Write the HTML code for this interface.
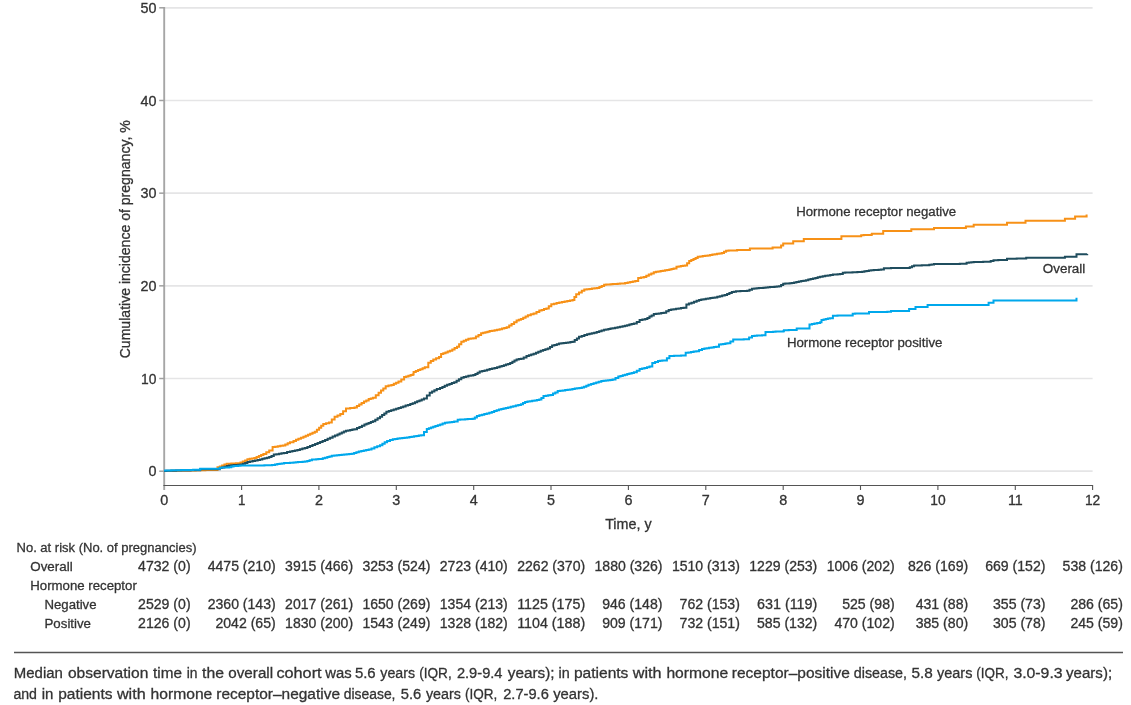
<!DOCTYPE html>
<html lang="en"><head><meta charset="utf-8"><title>Cumulative incidence of pregnancy</title>
<style>
html,body{margin:0;padding:0;background:#fff;}
body{width:1131px;height:705px;overflow:hidden;}
svg{display:block;font-family:"Liberation Sans",sans-serif;}
text{fill:#333;}
text{stroke:#333;stroke-width:0.3px;}
.ax{font-size:14.1px;}
.at{font-size:15.2px;}
.tb{font-size:13.7px;}
.nm{font-size:14.1px;}
.cp{font-size:15.3px;}
</style></head><body>
<svg width="1131" height="705" viewBox="0 0 1131 705">
<rect width="1131" height="705" fill="#fff"/>

<line x1="164.2" y1="471.20" x2="1092.6" y2="471.20" stroke="#e5e5e6" stroke-width="1.7"/>
<line x1="164.2" y1="378.52" x2="1092.6" y2="378.52" stroke="#e5e5e6" stroke-width="1.7"/>
<line x1="164.2" y1="285.84" x2="1092.6" y2="285.84" stroke="#e5e5e6" stroke-width="1.7"/>
<line x1="164.2" y1="193.16" x2="1092.6" y2="193.16" stroke="#e5e5e6" stroke-width="1.7"/>
<line x1="164.2" y1="100.48" x2="1092.6" y2="100.48" stroke="#e5e5e6" stroke-width="1.7"/>
<line x1="164.2" y1="7.80" x2="1092.6" y2="7.80" stroke="#e5e5e6" stroke-width="1.7"/>
<line x1="164.2" y1="7" x2="164.2" y2="490" stroke="#a6a6a6" stroke-width="1.9"/>
<line x1="159.2" y1="471.20" x2="164.2" y2="471.20" stroke="#a0a0a0" stroke-width="1.5"/>
<text class="ax" x="156.4" y="476.2" text-anchor="end" textLength="8.0" lengthAdjust="spacingAndGlyphs">0</text>
<line x1="159.2" y1="378.52" x2="164.2" y2="378.52" stroke="#a0a0a0" stroke-width="1.5"/>
<text class="ax" x="156.4" y="383.5" text-anchor="end" textLength="15.4" lengthAdjust="spacingAndGlyphs">10</text>
<line x1="159.2" y1="285.84" x2="164.2" y2="285.84" stroke="#a0a0a0" stroke-width="1.5"/>
<text class="ax" x="156.4" y="290.8" text-anchor="end" textLength="16.0" lengthAdjust="spacingAndGlyphs">20</text>
<line x1="159.2" y1="193.16" x2="164.2" y2="193.16" stroke="#a0a0a0" stroke-width="1.5"/>
<text class="ax" x="156.4" y="198.2" text-anchor="end" textLength="16.0" lengthAdjust="spacingAndGlyphs">30</text>
<line x1="159.2" y1="100.48" x2="164.2" y2="100.48" stroke="#a0a0a0" stroke-width="1.5"/>
<text class="ax" x="156.4" y="105.5" text-anchor="end" textLength="16.0" lengthAdjust="spacingAndGlyphs">40</text>
<line x1="159.2" y1="7.80" x2="164.2" y2="7.80" stroke="#a0a0a0" stroke-width="1.5"/>
<text class="ax" x="156.4" y="12.8" text-anchor="end" textLength="16.0" lengthAdjust="spacingAndGlyphs">50</text>
<line x1="163.4" y1="485.5" x2="1093.1" y2="485.5" stroke="#555" stroke-width="1.2"/>
<text class="ax" x="164.2" y="504.8" text-anchor="middle" textLength="8.0" lengthAdjust="spacingAndGlyphs">0</text>
<line x1="241.6" y1="485.5" x2="241.6" y2="490" stroke="#555" stroke-width="1.1"/>
<text class="ax" x="241.6" y="504.8" text-anchor="middle" textLength="7.4" lengthAdjust="spacingAndGlyphs">1</text>
<line x1="318.9" y1="485.5" x2="318.9" y2="490" stroke="#555" stroke-width="1.1"/>
<text class="ax" x="318.9" y="504.8" text-anchor="middle" textLength="8.0" lengthAdjust="spacingAndGlyphs">2</text>
<line x1="396.3" y1="485.5" x2="396.3" y2="490" stroke="#555" stroke-width="1.1"/>
<text class="ax" x="396.3" y="504.8" text-anchor="middle" textLength="8.0" lengthAdjust="spacingAndGlyphs">3</text>
<line x1="473.7" y1="485.5" x2="473.7" y2="490" stroke="#555" stroke-width="1.1"/>
<text class="ax" x="473.7" y="504.8" text-anchor="middle" textLength="8.0" lengthAdjust="spacingAndGlyphs">4</text>
<line x1="551.0" y1="485.5" x2="551.0" y2="490" stroke="#555" stroke-width="1.1"/>
<text class="ax" x="551.0" y="504.8" text-anchor="middle" textLength="8.0" lengthAdjust="spacingAndGlyphs">5</text>
<line x1="628.4" y1="485.5" x2="628.4" y2="490" stroke="#555" stroke-width="1.1"/>
<text class="ax" x="628.4" y="504.8" text-anchor="middle" textLength="8.0" lengthAdjust="spacingAndGlyphs">6</text>
<line x1="705.8" y1="485.5" x2="705.8" y2="490" stroke="#555" stroke-width="1.1"/>
<text class="ax" x="705.8" y="504.8" text-anchor="middle" textLength="8.0" lengthAdjust="spacingAndGlyphs">7</text>
<line x1="783.2" y1="485.5" x2="783.2" y2="490" stroke="#555" stroke-width="1.1"/>
<text class="ax" x="783.2" y="504.8" text-anchor="middle" textLength="8.0" lengthAdjust="spacingAndGlyphs">8</text>
<line x1="860.5" y1="485.5" x2="860.5" y2="490" stroke="#555" stroke-width="1.1"/>
<text class="ax" x="860.5" y="504.8" text-anchor="middle" textLength="8.0" lengthAdjust="spacingAndGlyphs">9</text>
<line x1="937.9" y1="485.5" x2="937.9" y2="490" stroke="#555" stroke-width="1.1"/>
<text class="ax" x="937.9" y="504.8" text-anchor="middle" textLength="15.4" lengthAdjust="spacingAndGlyphs">10</text>
<line x1="1015.3" y1="485.5" x2="1015.3" y2="490" stroke="#555" stroke-width="1.1"/>
<text class="ax" x="1015.3" y="504.8" text-anchor="middle" textLength="14.8" lengthAdjust="spacingAndGlyphs">11</text>
<line x1="1092.6" y1="485.5" x2="1092.6" y2="490" stroke="#555" stroke-width="1.1"/>
<text class="ax" x="1092.6" y="504.8" text-anchor="middle" textLength="15.4" lengthAdjust="spacingAndGlyphs">12</text>
<text class="at" x="628.4" y="528.7" text-anchor="middle" textLength="46.5" lengthAdjust="spacingAndGlyphs">Time, y</text>
<text class="at" transform="translate(129.9,239.3) rotate(-90)" text-anchor="middle" textLength="238" lengthAdjust="spacingAndGlyphs">Cumulative incidence of pregnancy, %</text>
<polyline fill="none" stroke="#f79117" stroke-width="2" stroke-linejoin="miter" points="164.0,471.0 166.4,471.0 166.4,470.9 168.9,470.9 168.9,470.9 171.3,470.9 171.3,470.8 173.8,470.8 173.8,470.8 176.2,470.8 176.2,470.7 178.6,470.7 178.6,470.7 181.1,470.7 181.1,470.6 183.5,470.6 183.5,470.6 185.9,470.6 185.9,470.5 188.4,470.5 188.4,470.5 190.8,470.5 190.8,470.4 193.3,470.4 193.3,470.4 195.7,470.4 195.7,470.3 198.1,470.3 198.1,470.3 200.6,470.3 200.6,470.2 203.0,470.2 203.0,470.2 205.4,470.2 205.4,470.1 207.9,470.1 207.9,470.1 210.3,470.1 210.3,470.0 212.8,470.0 212.8,470.0 215.2,470.0 215.2,469.9 217.5,469.9 217.5,467.2 219.8,467.2 219.8,466.4 222.1,466.4 222.1,465.5 224.4,465.5 224.4,464.6 226.7,464.6 226.7,463.8 229.0,463.8 229.0,463.7 231.3,463.7 231.3,463.6 233.6,463.6 233.6,463.4 235.9,463.4 235.9,463.3 238.2,463.3 238.2,463.2 240.5,463.2 240.5,462.4 242.8,462.4 242.8,461.5 245.1,461.5 245.1,460.4 247.4,460.4 247.4,459.2 249.7,459.2 249.7,458.8 252.0,458.8 252.0,458.4 254.3,458.4 254.3,458.0 256.6,458.0 256.6,457.0 258.9,457.0 258.9,456.0 261.1,456.0 261.1,455.0 263.4,455.0 263.4,454.0 266.3,454.0 266.3,452.3 269.2,452.3 269.2,450.6 272.6,450.6 272.6,447.1 275.2,447.1 275.2,446.7 277.8,446.7 277.8,446.2 280.4,446.2 280.4,445.8 283.0,445.8 283.0,445.4 285.3,445.4 285.3,444.4 287.7,444.4 287.7,443.3 290.0,443.3 290.0,442.3 293.5,442.3 293.5,440.9 296.0,440.9 296.0,439.8 298.4,439.8 298.4,438.8 300.9,438.8 300.9,437.8 303.4,437.8 303.4,436.7 305.7,436.7 305.7,435.7 308.0,435.7 308.0,434.7 310.2,434.7 310.2,433.7 312.5,433.7 312.5,432.7 314.8,432.7 314.8,431.7 316.9,431.7 316.9,429.8 319.1,429.8 319.1,427.8 321.2,427.8 321.2,425.8 323.3,425.8 323.3,423.9 326.1,423.9 326.1,423.2 329.0,423.2 329.0,422.5 331.8,422.5 331.8,419.6 334.6,419.6 334.6,416.8 337.5,416.8 337.5,415.4 340.3,415.4 340.3,414.0 343.1,414.0 343.1,411.3 346.0,411.3 346.0,408.6 348.1,408.6 348.1,408.4 350.2,408.4 350.2,408.1 352.4,408.1 352.4,407.9 354.5,407.9 354.5,407.6 356.9,407.6 356.9,406.0 359.2,406.0 359.2,404.5 361.6,404.5 361.6,402.9 364.0,402.9 364.0,401.6 366.3,401.6 366.3,400.4 368.7,400.4 368.7,399.1 370.8,399.1 370.8,398.4 372.9,398.4 372.9,397.7 375.8,397.7 375.8,395.2 378.6,395.2 378.6,392.7 381.0,392.7 381.0,390.6 383.3,390.6 383.3,388.4 385.7,388.4 385.7,386.3 388.5,386.3 388.5,385.6 391.4,385.6 391.4,384.9 393.8,384.9 393.8,383.8 396.1,383.8 396.1,382.7 398.5,382.7 398.5,381.6 401.3,381.6 401.3,379.4 404.1,379.4 404.1,377.1 406.2,377.1 406.2,376.5 408.4,376.5 408.4,375.8 410.6,375.8 410.6,375.1 412.7,375.1 412.7,374.5 413.6,374.5 413.6,372.0 415.8,372.0 415.8,371.1 418.1,371.1 418.1,370.1 420.3,370.1 420.3,369.2 422.6,369.2 422.6,368.2 424.8,368.2 424.8,367.3 428.3,367.3 428.3,362.7 430.8,362.7 430.8,361.1 433.3,361.1 433.3,359.5 436.1,359.5 436.1,358.2 439.0,358.2 439.0,357.0 441.1,357.0 441.1,354.1 443.3,354.1 443.3,353.2 445.5,353.2 445.5,352.4 447.7,352.4 447.7,351.6 449.9,351.6 449.9,350.7 452.3,350.7 452.3,349.4 454.6,349.4 454.6,348.0 457.0,348.0 457.0,346.7 459.1,346.7 459.1,344.2 461.3,344.2 461.3,341.8 463.7,341.8 463.7,340.8 466.0,340.8 466.0,339.7 468.4,339.7 468.4,338.7 470.9,338.7 470.9,338.4 473.3,338.4 473.3,338.2 475.9,338.2 475.9,336.6 478.5,336.6 478.5,334.9 481.1,334.9 481.1,333.3 483.2,333.3 483.2,332.8 485.4,332.8 485.4,332.2 487.5,332.2 487.5,331.7 489.6,331.7 489.6,331.1 492.1,331.1 492.1,330.7 494.6,330.7 494.6,330.2 497.1,330.2 497.1,329.8 499.6,329.8 499.6,329.3 502.0,329.3 502.0,328.6 504.3,328.6 504.3,327.9 506.7,327.9 506.7,327.2 509.2,327.2 509.2,325.5 511.6,325.5 511.6,323.9 514.1,323.9 514.1,322.2 516.6,322.2 516.6,320.5 518.8,320.5 518.8,319.8 520.9,319.8 520.9,319.1 523.2,319.1 523.2,317.8 525.6,317.8 525.6,316.5 527.9,316.5 527.9,315.2 530.8,315.2 530.8,314.3 533.6,314.3 533.6,313.4 536.5,313.4 536.5,312.0 539.3,312.0 539.3,310.6 541.7,310.6 541.7,309.9 544.0,309.9 544.0,309.1 546.4,309.1 546.4,308.4 548.8,308.4 548.8,306.3 551.3,306.3 551.3,304.2 554.0,304.2 554.0,303.7 556.6,303.7 556.6,303.1 559.3,303.1 559.3,302.6 562.0,302.6 562.0,302.1 564.6,302.1 564.6,301.6 567.3,301.6 567.3,301.0 570.0,301.0 570.0,300.4 572.6,300.4 572.6,299.9 574.4,299.9 574.4,297.1 576.2,297.1 576.2,294.3 579.0,294.3 579.0,292.5 581.8,292.5 581.8,290.7 584.3,290.7 584.3,289.5 586.8,289.5 586.8,289.2 589.4,289.2 589.4,288.9 591.9,288.9 591.9,288.6 594.5,288.6 594.5,288.3 597.0,288.3 597.0,288.0 599.4,288.0 599.4,286.9 601.7,286.9 601.7,285.9 604.1,285.9 604.1,284.8 606.2,284.8 606.2,284.6 608.4,284.6 608.4,284.5 610.5,284.5 610.5,284.3 612.6,284.3 612.6,284.1 615.1,284.1 615.1,284.0 617.6,284.0 617.6,283.8 620.1,283.8 620.1,283.6 622.6,283.6 622.6,283.5 625.1,283.5 625.1,283.0 627.7,283.0 627.7,282.5 630.2,282.5 630.2,282.0 632.8,282.0 632.8,281.5 635.3,281.5 635.3,281.0 638.2,281.0 638.2,278.1 641.0,278.1 641.0,277.6 643.8,277.6 643.8,277.0 646.3,277.0 646.3,275.8 648.8,275.8 648.8,274.6 651.3,274.6 651.3,273.4 653.8,273.4 653.8,272.2 656.1,272.2 656.1,271.8 658.3,271.8 658.3,271.4 660.6,271.4 660.6,271.1 662.8,271.1 662.8,270.7 665.1,270.7 665.1,270.3 667.2,270.3 667.2,269.9 669.4,269.9 669.4,269.5 671.5,269.5 671.5,269.0 673.6,269.0 673.6,268.6 676.5,268.6 676.5,266.8 678.6,266.8 678.6,266.4 680.8,266.4 680.8,266.1 682.9,266.1 682.9,265.8 685.0,265.8 685.0,265.4 687.1,265.4 687.1,263.2 689.2,263.2 689.2,261.1 691.3,261.1 691.3,260.0 693.5,260.0 693.5,259.0 695.6,259.0 695.6,257.9 697.7,257.9 697.7,256.8 700.2,256.8 700.2,256.4 702.7,256.4 702.7,256.1 705.2,256.1 705.2,255.8 707.7,255.8 707.7,255.4 710.1,255.4 710.1,255.0 712.4,255.0 712.4,254.6 714.8,254.6 714.8,254.2 717.1,254.2 717.1,253.8 719.4,253.8 719.4,253.4 721.8,253.4 721.8,253.0 724.0,253.0 724.0,251.8 726.1,251.8 726.1,250.7 728.6,250.7 728.6,250.6 731.0,250.6 731.0,250.6 733.5,250.6 733.5,250.6 736.0,250.6 736.0,250.5 737.1,250.5 737.1,250.1 748.5,250.1 749.9,250.1 749.9,248.6 771.2,248.6 772.6,248.6 772.6,247.6 779.0,247.6 781.1,247.6 781.1,245.6 783.2,245.6 783.2,243.6 791.0,243.6 793.2,243.6 793.2,241.2 801.0,241.2 803.8,241.2 803.8,239.1 839.3,239.1 841.4,239.1 841.4,236.2 859.8,236.2 861.2,236.2 861.2,235.2 863.7,235.2 863.7,235.1 866.2,235.1 866.2,235.0 868.7,235.0 868.7,234.9 871.2,234.9 871.2,234.8 871.9,234.8 871.9,233.7 881.1,233.7 883.2,233.7 883.2,231.0 909.9,231.0 911.3,231.0 911.3,229.3 932.6,229.3 934.0,229.3 934.0,227.9 964.5,227.9 965.9,227.9 965.9,226.5 972.3,226.5 973.7,226.5 973.7,224.8 1005.6,224.8 1007.0,224.8 1007.0,222.7 1024.0,222.7 1025.5,222.7 1025.5,220.8 1064.4,220.8 1064.9,220.8 1064.9,218.8 1074.7,218.8 1075.1,218.8 1075.1,216.5 1086.6,216.5 1086.6,214.6"/>
<polyline fill="none" stroke="#1f4d5e" stroke-width="2" stroke-linejoin="miter" points="164.0,470.9 166.4,470.9 166.4,470.8 168.8,470.8 168.8,470.8 171.3,470.8 171.3,470.8 173.7,470.8 173.7,470.7 176.1,470.7 176.1,470.6 178.5,470.6 178.5,470.6 180.9,470.6 180.9,470.5 183.4,470.5 183.4,470.5 185.8,470.5 185.8,470.4 188.2,470.4 188.2,470.4 190.6,470.4 190.6,470.3 193.1,470.3 193.1,470.3 195.5,470.3 195.5,470.2 197.9,470.2 197.9,470.2 200.2,470.2 200.2,469.3 202.7,469.3 202.7,469.3 205.1,469.3 205.1,469.3 207.6,469.3 207.6,469.3 210.1,469.3 210.1,469.2 212.6,469.2 212.6,469.2 215.0,469.2 215.0,469.2 217.5,469.2 217.5,469.2 219.8,469.2 219.8,468.0 222.1,468.0 222.1,467.4 224.4,467.4 224.4,466.8 226.7,466.8 226.7,466.1 229.0,466.1 229.0,465.5 231.3,465.5 231.3,465.3 233.6,465.3 233.6,465.1 235.9,465.1 235.9,465.0 238.2,465.0 238.2,464.8 240.5,464.8 240.5,464.6 242.8,464.6 242.8,463.8 245.1,463.8 245.1,462.9 247.4,462.9 247.4,462.1 250.0,462.1 250.0,461.6 252.6,461.6 252.6,461.1 255.1,461.1 255.1,460.5 257.7,460.5 257.7,460.0 260.0,460.0 260.0,459.4 262.3,459.4 262.3,458.8 264.6,458.8 264.6,458.3 266.9,458.3 266.9,457.7 269.2,457.7 269.2,457.1 271.5,457.1 271.5,455.9 273.8,455.9 273.8,454.6 276.4,454.6 276.4,454.2 279.0,454.2 279.0,453.8 281.5,453.8 281.5,453.3 284.1,453.3 284.1,452.9 287.1,452.9 287.1,452.1 290.0,452.1 290.0,451.4 292.4,451.4 292.4,451.0 294.9,451.0 294.9,450.6 297.4,450.6 297.4,450.0 299.9,450.0 299.9,449.3 302.4,449.3 302.4,448.6 304.9,448.6 304.9,448.0 307.4,448.0 307.4,447.0 310.0,447.0 310.0,446.0 312.5,446.0 312.5,445.0 315.1,445.0 315.1,444.0 317.6,444.0 317.6,443.0 320.1,443.0 320.1,441.9 322.6,441.9 322.6,440.9 325.1,440.9 325.1,439.9 327.6,439.9 327.6,438.8 330.1,438.8 330.1,437.7 332.6,437.7 332.6,436.6 335.0,436.6 335.0,435.6 337.5,435.6 337.5,434.5 339.6,434.5 339.6,433.6 341.8,433.6 341.8,432.6 343.9,432.6 343.9,431.6 346.0,431.6 346.0,430.7 348.1,430.7 348.1,430.4 350.2,430.4 350.2,430.0 352.4,430.0 352.4,429.6 354.5,429.6 354.5,429.3 357.0,429.3 357.0,428.1 359.4,428.1 359.4,427.0 361.9,427.0 361.9,425.8 364.4,425.8 364.4,424.6 366.5,424.6 366.5,423.8 368.6,423.8 368.6,423.0 370.8,423.0 370.8,422.1 372.9,422.1 372.9,421.3 375.3,421.3 375.3,419.8 377.6,419.8 377.6,418.3 380.0,418.3 380.0,416.8 382.1,416.8 382.1,415.1 384.3,415.1 384.3,413.5 386.4,413.5 386.4,411.8 388.8,411.8 388.8,411.0 391.2,411.0 391.2,410.3 393.7,410.3 393.7,409.5 396.1,409.5 396.1,408.8 398.5,408.8 398.5,408.0 400.9,408.0 400.9,407.2 403.2,407.2 403.2,406.4 405.6,406.4 405.6,405.6 408.0,405.6 408.0,404.9 410.3,404.9 410.3,404.1 412.7,404.1 412.7,403.3 415.0,403.3 415.0,402.3 417.2,402.3 417.2,401.3 419.5,401.3 419.5,400.4 421.7,400.4 421.7,399.4 424.0,399.4 424.0,398.4 426.9,398.4 426.9,395.5 429.7,395.5 429.7,392.7 432.1,392.7 432.1,391.5 434.4,391.5 434.4,390.3 436.8,390.3 436.8,389.1 440.0,389.1 440.0,387.9 442.4,387.9 442.4,386.9 444.7,386.9 444.7,385.8 447.1,385.8 447.1,384.8 449.5,384.8 449.5,383.9 451.8,383.9 451.8,383.1 454.2,383.1 454.2,382.2 456.6,382.2 456.6,380.7 458.9,380.7 458.9,379.2 461.3,379.2 461.3,377.7 463.7,377.7 463.7,377.1 466.0,377.1 466.0,376.4 468.4,376.4 468.4,375.8 470.9,375.8 470.9,375.5 473.3,375.5 473.3,375.1 475.4,375.1 475.4,373.9 477.6,373.9 477.6,372.8 479.7,372.8 479.7,371.6 482.2,371.6 482.2,371.0 484.6,371.0 484.6,370.4 487.1,370.4 487.1,369.7 489.6,369.7 489.6,369.1 492.1,369.1 492.1,368.5 494.6,368.5 494.6,367.9 497.1,367.9 497.1,367.2 499.6,367.2 499.6,366.6 501.7,366.6 501.7,366.0 503.9,366.0 503.9,365.3 506.0,365.3 506.0,364.6 508.1,364.6 508.1,364.0 510.2,364.0 510.2,362.9 512.4,362.9 512.4,361.8 514.5,361.8 514.5,360.6 516.6,360.6 516.6,359.5 518.8,359.5 518.8,359.1 520.9,359.1 520.9,358.8 523.7,358.8 523.7,357.4 526.5,357.4 526.5,356.0 528.9,356.0 528.9,355.3 531.2,355.3 531.2,354.5 533.6,354.5 533.6,353.8 536.0,353.8 536.0,352.8 538.3,352.8 538.3,351.7 540.7,351.7 540.7,350.7 543.1,350.7 543.1,349.9 545.4,349.9 545.4,349.2 547.8,349.2 547.8,348.4 550.0,348.4 550.0,347.0 552.1,347.0 552.1,345.6 554.4,345.6 554.4,344.9 556.8,344.9 556.8,344.3 559.1,344.3 559.1,343.6 561.4,343.6 561.4,343.3 563.6,343.3 563.6,343.0 565.9,343.0 565.9,342.7 568.1,342.7 568.1,342.4 570.4,342.4 570.4,342.1 572.6,342.1 572.6,341.8 574.7,341.8 574.7,340.1 576.9,340.1 576.9,338.5 579.0,338.5 579.0,336.8 581.7,336.8 581.7,336.0 584.4,336.0 584.4,335.1 587.1,335.1 587.1,334.3 589.5,334.3 589.5,333.8 591.8,333.8 591.8,333.3 594.2,333.3 594.2,332.8 596.7,332.8 596.7,332.0 599.2,332.0 599.2,331.2 601.6,331.2 601.6,330.5 604.1,330.5 604.1,329.7 606.2,329.7 606.2,329.4 608.4,329.4 608.4,329.0 610.5,329.0 610.5,328.6 612.6,328.6 612.6,328.3 615.1,328.3 615.1,327.8 617.6,327.8 617.6,327.2 620.1,327.2 620.1,326.7 622.6,326.7 622.6,326.2 624.9,326.2 624.9,325.7 627.1,325.7 627.1,325.2 629.4,325.2 629.4,324.6 631.6,324.6 631.6,324.1 633.9,324.1 633.9,323.6 636.8,323.6 636.8,321.9 639.6,321.9 639.6,320.1 642.4,320.1 642.4,319.6 645.2,319.6 645.2,319.1 647.4,319.1 647.4,317.9 649.5,317.9 649.5,316.6 651.6,316.6 651.6,315.4 653.8,315.4 653.8,314.1 656.3,314.1 656.3,313.8 658.8,313.8 658.8,313.4 661.2,313.4 661.2,313.1 663.7,313.1 663.7,312.7 666.2,312.7 666.2,311.3 668.7,311.3 668.7,309.9 671.2,309.9 671.2,309.5 673.6,309.5 673.6,309.2 676.1,309.2 676.1,308.8 678.6,308.8 678.6,308.4 681.0,308.4 681.0,308.1 683.5,308.1 683.5,307.7 686.4,307.7 686.4,304.5 688.9,304.5 688.9,303.6 691.5,303.6 691.5,302.7 694.0,302.7 694.0,301.7 696.6,301.7 696.6,300.8 699.1,300.8 699.1,299.9 701.3,299.9 701.3,299.5 703.6,299.5 703.6,299.2 705.8,299.2 705.8,298.8 708.1,298.8 708.1,298.5 710.3,298.5 710.3,298.1 712.6,298.1 712.6,297.8 714.8,297.8 714.8,297.4 717.3,297.4 717.3,296.8 719.8,296.8 719.8,296.2 722.2,296.2 722.2,295.6 724.7,295.6 724.7,295.0 727.1,295.0 727.1,294.0 729.4,294.0 729.4,293.1 731.8,293.1 731.8,292.1 733.9,292.1 733.9,291.7 736.0,291.7 736.0,291.3 738.2,291.3 738.2,291.2 740.4,291.2 740.4,291.1 742.7,291.1 742.7,291.0 744.9,291.0 744.9,290.9 747.1,290.9 747.1,290.8 749.5,290.8 749.5,289.8 752.0,289.8 752.0,288.7 754.3,288.7 754.3,288.5 756.6,288.5 756.6,288.3 758.8,288.3 758.8,288.1 761.1,288.1 761.1,287.9 763.4,287.9 763.4,287.7 765.6,287.7 765.6,287.5 767.9,287.5 767.9,287.3 770.1,287.3 770.1,287.1 772.3,287.1 772.3,286.9 774.5,286.9 774.5,286.7 776.8,286.7 776.8,286.5 779.0,286.5 779.0,286.3 781.1,286.3 781.1,285.1 783.2,285.1 783.2,283.8 785.3,283.8 785.3,283.6 787.5,283.6 787.5,283.4 789.6,283.4 789.6,283.2 791.7,283.2 791.7,283.0 794.1,283.0 794.1,282.5 796.4,282.5 796.4,282.1 798.8,282.1 798.8,281.6 801.2,281.6 801.2,281.1 803.5,281.1 803.5,280.7 805.9,280.7 805.9,280.2 808.3,280.2 808.3,279.6 810.6,279.6 810.6,279.0 813.0,279.0 813.0,278.4 815.4,278.4 815.4,277.9 817.7,277.9 817.7,277.3 820.1,277.3 820.1,276.7 822.7,276.7 822.7,276.3 825.2,276.3 825.2,275.8 827.8,275.8 827.8,275.4 830.3,275.4 830.3,274.9 832.9,274.9 832.9,274.5 835.3,274.5 835.3,274.4 837.6,274.4 837.6,274.2 840.0,274.2 840.0,274.1 842.8,274.1 842.8,272.7 845.2,272.7 845.2,272.6 847.7,272.6 847.7,272.5 850.1,272.5 850.1,272.4 852.5,272.4 852.5,272.3 854.9,272.3 854.9,272.2 857.4,272.2 857.4,272.1 859.8,272.1 859.8,272.0 862.1,272.0 862.1,271.7 864.4,271.7 864.4,271.3 866.6,271.3 866.6,271.0 868.9,271.0 868.9,270.6 871.2,270.6 871.2,270.3 873.7,270.3 873.7,270.1 876.2,270.1 876.2,270.0 878.6,270.0 878.6,269.8 881.1,269.8 881.1,269.6 883.9,269.6 883.9,268.2 886.3,268.2 886.3,268.2 888.7,268.2 888.7,268.2 891.0,268.2 891.0,268.1 893.4,268.1 893.4,268.1 895.8,268.1 895.8,268.1 898.2,268.1 898.2,268.1 900.6,268.1 900.6,268.1 902.9,268.1 902.9,268.0 905.3,268.0 905.3,268.0 907.7,268.0 907.7,268.0 909.8,268.0 909.8,267.2 912.0,267.2 912.0,266.3 914.1,266.3 914.1,265.5 916.7,265.5 916.7,265.4 919.2,265.4 919.2,265.4 921.8,265.4 921.8,265.3 924.3,265.3 924.3,265.3 926.9,265.3 926.9,265.2 929.3,265.2 929.3,264.8 931.6,264.8 931.6,264.5 934.0,264.5 934.0,264.1 936.3,264.1 936.3,264.1 938.7,264.1 938.7,264.1 941.0,264.1 941.0,264.0 943.4,264.0 943.4,264.0 945.7,264.0 945.7,264.0 948.1,264.0 948.1,264.0 950.4,264.0 950.4,263.9 952.8,263.9 952.8,263.9 955.1,263.9 955.1,263.9 957.5,263.9 957.5,263.9 959.8,263.9 959.8,263.8 962.2,263.8 962.2,263.8 964.5,263.8 964.5,263.8 966.6,263.8 966.6,262.8 969.0,262.8 969.0,262.5 971.3,262.5 971.3,262.3 973.7,262.3 973.7,262.0 976.1,262.0 976.1,261.9 978.4,261.9 978.4,261.9 980.8,261.9 980.8,261.9 983.2,261.9 983.2,261.8 985.5,261.8 985.5,261.8 987.9,261.8 987.9,261.7 990.7,261.7 990.7,260.9 993.5,260.9 993.5,260.2 995.9,260.2 995.9,260.2 998.3,260.2 998.3,260.1 1000.8,260.1 1000.8,260.1 1003.2,260.1 1003.2,260.0 1005.6,260.0 1005.6,260.0 1007.0,260.0 1007.0,258.8 1009.4,258.8 1009.4,258.8 1011.9,258.8 1011.9,258.7 1014.3,258.7 1014.3,258.7 1016.7,258.7 1016.7,258.6 1019.1,258.6 1019.1,258.6 1021.6,258.6 1021.6,258.5 1024.0,258.5 1024.0,258.5 1026.2,258.5 1026.2,257.8 1063.5,257.8 1064.9,257.8 1064.9,256.7 1074.2,256.7 1076.5,256.7 1076.5,254.3 1079.2,254.3 1079.2,254.2 1081.8,254.2 1081.8,254.2 1084.5,254.2 1084.5,254.2 1087.2,254.2 1087.2,254.1"/>
<polyline fill="none" stroke="#00a8ec" stroke-width="2" stroke-linejoin="miter" points="164.0,470.5 166.4,470.5 166.4,470.4 168.8,470.4 168.8,470.4 171.3,470.4 171.3,470.3 173.7,470.3 173.7,470.3 176.1,470.3 176.1,470.2 178.5,470.2 178.5,470.2 180.9,470.2 180.9,470.1 183.4,470.1 183.4,470.0 185.8,470.0 185.8,470.0 188.2,470.0 188.2,469.9 190.6,469.9 190.6,469.9 193.1,469.9 193.1,469.8 195.5,469.8 195.5,469.8 197.9,469.8 197.9,469.7 200.2,469.7 200.2,468.7 217.5,468.7 219.8,468.7 219.8,467.8 222.1,467.8 222.1,467.6 224.4,467.6 224.4,467.5 226.7,467.5 226.7,467.4 229.0,467.4 229.0,467.2 231.3,467.2 231.3,466.6 233.6,466.6 233.6,466.1 235.9,466.1 235.9,465.9 238.2,465.9 238.2,465.7 240.5,465.7 240.5,465.5 242.9,465.5 242.9,465.5 245.3,465.5 245.3,465.5 247.7,465.5 247.7,465.4 250.1,465.4 250.1,465.4 252.5,465.4 252.5,465.4 254.8,465.4 254.8,465.4 257.2,465.4 257.2,465.4 259.6,465.4 259.6,465.4 262.0,465.4 262.0,465.4 264.4,465.4 264.4,465.3 266.8,465.3 266.8,465.3 269.2,465.3 269.2,465.3 272.1,465.3 272.1,464.9 275.0,464.9 275.0,464.4 277.3,464.4 277.3,464.0 279.6,464.0 279.6,463.7 281.8,463.7 281.8,463.4 284.1,463.4 284.1,463.0 287.1,463.0 287.1,462.9 290.0,462.9 290.0,462.8 293.5,462.8 293.5,462.5 295.8,462.5 295.8,462.3 298.1,462.3 298.1,462.1 300.3,462.1 300.3,461.9 302.6,461.9 302.6,461.7 304.9,461.7 304.9,461.5 307.3,461.5 307.3,460.9 309.6,460.9 309.6,460.2 312.0,460.2 312.0,459.6 314.1,459.6 314.1,459.4 316.2,459.4 316.2,459.2 318.4,459.2 318.4,459.1 320.5,459.1 320.5,458.9 322.8,458.9 322.8,458.3 325.0,458.3 325.0,457.7 327.3,457.7 327.3,457.0 329.5,457.0 329.5,456.4 331.8,456.4 331.8,455.8 334.3,455.8 334.3,455.6 336.8,455.6 336.8,455.3 339.2,455.3 339.2,455.1 341.7,455.1 341.7,454.8 344.2,454.8 344.2,454.5 346.7,454.5 346.7,454.2 349.2,454.2 349.2,454.0 351.7,454.0 351.7,453.7 354.1,453.7 354.1,453.0 356.4,453.0 356.4,452.3 358.8,452.3 358.8,451.6 361.3,451.6 361.3,451.1 363.8,451.1 363.8,450.5 366.2,450.5 366.2,449.9 368.7,449.9 368.7,449.4 371.5,449.4 371.5,448.4 374.4,448.4 374.4,447.3 377.2,447.3 377.2,446.2 380.0,446.2 380.0,445.2 382.4,445.2 382.4,443.8 384.7,443.8 384.7,442.3 387.1,442.3 387.1,440.9 390.0,440.9 390.0,440.0 392.8,440.0 392.8,439.2 395.2,439.2 395.2,438.9 397.5,438.9 397.5,438.6 399.9,438.6 399.9,438.3 402.3,438.3 402.3,438.0 404.6,438.0 404.6,437.7 407.0,437.7 407.0,437.4 409.4,437.4 409.4,437.0 411.7,437.0 411.7,436.7 414.1,436.7 414.1,436.3 416.5,436.3 416.5,435.9 418.8,435.9 418.8,435.6 421.2,435.6 421.2,435.2 424.0,435.2 424.0,432.0 426.8,432.0 426.8,428.9 428.9,428.9 428.9,428.2 431.1,428.2 431.1,427.4 433.2,427.4 433.2,426.7 435.4,426.7 435.4,426.0 437.8,426.0 437.8,425.2 440.2,425.2 440.2,424.4 442.6,424.4 442.6,423.6 445.0,423.6 445.0,422.8 447.3,422.8 447.3,422.5 449.6,422.5 449.6,422.2 451.9,422.2 451.9,421.9 454.2,421.9 454.2,421.6 457.7,421.6 457.7,419.8 460.2,419.8 460.2,419.6 462.7,419.6 462.7,419.5 465.1,419.5 465.1,419.3 467.6,419.3 467.6,419.1 470.1,419.1 470.1,419.0 472.6,419.0 472.6,418.8 474.8,418.8 474.8,417.4 476.9,417.4 476.9,415.9 479.4,415.9 479.4,415.3 481.9,415.3 481.9,414.7 484.3,414.7 484.3,414.1 486.8,414.1 486.8,413.5 489.3,413.5 489.3,412.7 491.8,412.7 491.8,411.9 494.2,411.9 494.2,411.0 496.7,411.0 496.7,410.2 499.0,410.2 499.0,409.6 501.3,409.6 501.3,409.1 503.5,409.1 503.5,408.5 505.8,408.5 505.8,408.0 508.1,408.0 508.1,407.4 510.7,407.4 510.7,406.8 513.2,406.8 513.2,406.2 515.8,406.2 515.8,405.5 518.3,405.5 518.3,404.9 520.9,404.9 520.9,404.3 523.0,404.3 523.0,403.1 525.1,403.1 525.1,402.0 527.5,402.0 527.5,401.6 529.8,401.6 529.8,401.2 532.2,401.2 532.2,400.8 534.6,400.8 534.6,400.4 536.9,400.4 536.9,400.0 539.3,400.0 539.3,399.6 541.4,399.6 541.4,397.9 543.5,397.9 543.5,396.1 545.9,396.1 545.9,395.7 548.2,395.7 548.2,395.3 550.6,395.3 550.6,394.9 553.0,394.9 553.0,393.6 555.3,393.6 555.3,392.4 557.7,392.4 557.7,391.1 560.2,391.1 560.2,390.8 562.7,390.8 562.7,390.4 565.2,390.4 565.2,390.1 567.7,390.1 567.7,389.7 570.1,389.7 570.1,389.4 572.4,389.4 572.4,389.0 574.8,389.0 574.8,388.6 577.1,388.6 577.1,388.3 579.4,388.3 579.4,388.0 581.8,388.0 581.8,387.6 584.0,387.6 584.0,386.7 586.3,386.7 586.3,385.7 588.5,385.7 588.5,384.8 591.1,384.8 591.1,384.1 593.6,384.1 593.6,383.3 596.2,383.3 596.2,382.6 598.7,382.6 598.7,381.8 601.3,381.8 601.3,381.1 603.6,381.1 603.6,380.8 605.8,380.8 605.8,380.5 608.1,380.5 608.1,380.2 610.3,380.2 610.3,379.9 612.6,379.9 612.6,379.6 615.5,379.6 615.5,378.1 618.3,378.1 618.3,376.5 620.5,376.5 620.5,375.9 622.8,375.9 622.8,375.3 625.0,375.3 625.0,374.7 627.2,374.7 627.2,374.1 629.4,374.1 629.4,373.5 631.7,373.5 631.7,372.9 633.9,372.9 633.9,372.3 636.8,372.3 636.8,370.7 639.6,370.7 639.6,369.1 642.1,369.1 642.1,368.5 644.5,368.5 644.5,367.9 647.0,367.9 647.0,367.2 649.5,367.2 649.5,366.6 652.3,366.6 652.3,363.0 655.1,363.0 655.1,361.9 658.0,361.9 658.0,360.9 660.1,360.9 660.1,360.8 662.3,360.8 662.3,360.6 664.4,360.6 664.4,360.5 666.9,360.5 666.9,358.2 669.4,358.2 669.4,356.0 671.8,356.0 671.8,355.9 674.1,355.9 674.1,355.8 676.5,355.8 676.5,355.8 678.8,355.8 678.8,355.7 681.1,355.7 681.1,355.6 683.5,355.6 683.5,355.5 685.7,355.5 685.7,352.7 688.4,352.7 688.4,352.4 691.0,352.4 691.0,352.0 693.6,352.0 693.6,351.6 696.3,351.6 696.3,351.3 699.1,351.3 699.1,350.1 702.0,350.1 702.0,348.9 704.4,348.9 704.4,348.5 706.7,348.5 706.7,348.2 709.1,348.2 709.1,347.8 711.5,347.8 711.5,347.4 713.8,347.4 713.8,347.1 716.2,347.1 716.2,346.7 719.0,346.7 719.0,344.6 721.1,344.6 721.1,344.2 723.2,344.2 723.2,343.9 725.4,343.9 725.4,343.6 727.5,343.6 727.5,343.2 730.4,343.2 730.4,341.4 733.2,341.4 733.2,339.6 735.8,339.6 735.8,339.5 738.4,339.5 738.4,339.4 741.1,339.4 741.1,339.4 743.7,339.4 743.7,339.3 746.3,339.3 746.3,339.2 749.1,339.2 749.1,337.6 752.0,337.6 752.0,336.0 754.5,336.0 754.5,335.8 757.0,335.8 757.0,335.6 759.5,335.6 759.5,335.4 762.0,335.4 762.0,335.2 765.5,335.2 765.5,332.1 768.0,332.1 768.0,332.0 770.6,332.0 770.6,331.9 773.1,331.9 773.1,331.8 775.6,331.8 775.6,331.6 778.1,331.6 778.1,331.5 780.7,331.5 780.7,331.4 783.2,331.4 783.2,331.3 783.9,331.3 783.9,330.3 786.3,330.3 786.3,330.2 788.7,330.2 788.7,330.1 791.2,330.1 791.2,330.1 793.6,330.1 793.6,330.0 796.0,330.0 796.0,329.9 796.7,329.9 796.7,328.6 807.3,328.6 809.5,328.6 809.5,324.6 812.0,324.6 812.0,324.1 814.4,324.1 814.4,323.6 817.2,323.6 817.2,322.9 820.1,322.9 820.1,322.2 821.5,322.2 821.5,319.9 823.6,319.9 823.6,319.5 825.8,319.5 825.8,319.0 827.9,319.0 827.9,318.6 830.0,318.6 830.0,318.2 832.9,318.2 832.9,315.7 835.2,315.7 835.2,315.7 837.5,315.7 837.5,315.6 839.8,315.6 839.8,315.6 842.1,315.6 842.1,315.5 844.4,315.5 844.4,315.5 846.7,315.5 846.7,315.5 849.0,315.5 849.0,315.4 851.3,315.4 851.3,315.4 852.7,315.4 852.7,313.7 855.2,313.7 855.2,313.6 857.7,313.6 857.7,313.6 860.2,313.6 860.2,313.5 862.6,313.5 862.6,313.5 865.1,313.5 865.1,313.4 867.6,313.4 867.6,313.4 869.0,313.4 869.0,312.1 871.3,312.1 871.3,312.1 873.6,312.1 873.6,312.0 875.9,312.0 875.9,312.0 878.2,312.0 878.2,312.0 880.4,312.0 880.4,311.9 882.7,311.9 882.7,311.9 885.0,311.9 885.0,311.9 887.3,311.9 887.3,311.8 889.6,311.8 889.6,311.8 891.0,311.8 891.0,311.0 907.7,311.0 909.1,311.0 909.1,308.9 914.1,308.9 915.5,308.9 915.5,307.0 926.2,307.0 927.6,307.0 927.6,304.9 987.9,304.9 988.6,304.9 988.6,302.8 992.1,302.8 993.5,302.8 993.5,300.4 1076.5,300.4 1076.5,297.8"/>
<text class="tb" x="796.2" y="216" textLength="160" lengthAdjust="spacingAndGlyphs">Hormone receptor negative</text>
<text class="tb" x="1042.8" y="273" textLength="42.5" lengthAdjust="spacingAndGlyphs">Overall</text>
<text class="tb" x="786.9" y="347" textLength="155.5" lengthAdjust="spacingAndGlyphs">Hormone receptor positive</text>
<text class="tb" x="16.5" y="551.8" textLength="180" lengthAdjust="spacingAndGlyphs">No. at risk (No. of pregnancies)</text>
<text class="tb" x="30.3" y="570.8" textLength="42.3" lengthAdjust="spacingAndGlyphs">Overall</text>
<text class="tb" x="30.3" y="589.8" textLength="106.5" lengthAdjust="spacingAndGlyphs">Hormone receptor</text>
<text class="tb" x="44.5" y="608.8" textLength="52" lengthAdjust="spacingAndGlyphs">Negative</text>
<text class="tb" x="44.5" y="627.8" textLength="46.5" lengthAdjust="spacingAndGlyphs">Positive</text>
<text class="nm" x="190.6" y="570.8" text-anchor="end" textLength="52.5" lengthAdjust="spacingAndGlyphs">4732 (0)</text>
<text class="nm" x="190.6" y="608.8" text-anchor="end" textLength="52.5" lengthAdjust="spacingAndGlyphs">2529 (0)</text>
<text class="nm" x="190.6" y="627.8" text-anchor="end" textLength="52.5" lengthAdjust="spacingAndGlyphs">2126 (0)</text>
<text class="nm" x="275.7" y="570.8" text-anchor="end" textLength="68.0" lengthAdjust="spacingAndGlyphs">4475 (210)</text>
<text class="nm" x="275.7" y="608.8" text-anchor="end" textLength="68.0" lengthAdjust="spacingAndGlyphs">2360 (143)</text>
<text class="nm" x="275.7" y="627.8" text-anchor="end" textLength="60.3" lengthAdjust="spacingAndGlyphs">2042 (65)</text>
<text class="nm" x="353.1" y="570.8" text-anchor="end" textLength="68.0" lengthAdjust="spacingAndGlyphs">3915 (466)</text>
<text class="nm" x="353.1" y="608.8" text-anchor="end" textLength="68.0" lengthAdjust="spacingAndGlyphs">2017 (261)</text>
<text class="nm" x="353.1" y="627.8" text-anchor="end" textLength="68.0" lengthAdjust="spacingAndGlyphs">1830 (200)</text>
<text class="nm" x="430.4" y="570.8" text-anchor="end" textLength="68.0" lengthAdjust="spacingAndGlyphs">3253 (524)</text>
<text class="nm" x="430.4" y="608.8" text-anchor="end" textLength="68.0" lengthAdjust="spacingAndGlyphs">1650 (269)</text>
<text class="nm" x="430.4" y="627.8" text-anchor="end" textLength="68.0" lengthAdjust="spacingAndGlyphs">1543 (249)</text>
<text class="nm" x="507.8" y="570.8" text-anchor="end" textLength="68.0" lengthAdjust="spacingAndGlyphs">2723 (410)</text>
<text class="nm" x="507.8" y="608.8" text-anchor="end" textLength="68.0" lengthAdjust="spacingAndGlyphs">1354 (213)</text>
<text class="nm" x="507.8" y="627.8" text-anchor="end" textLength="68.0" lengthAdjust="spacingAndGlyphs">1328 (182)</text>
<text class="nm" x="585.2" y="570.8" text-anchor="end" textLength="68.0" lengthAdjust="spacingAndGlyphs">2262 (370)</text>
<text class="nm" x="585.2" y="608.8" text-anchor="end" textLength="68.0" lengthAdjust="spacingAndGlyphs">1125 (175)</text>
<text class="nm" x="585.2" y="627.8" text-anchor="end" textLength="68.0" lengthAdjust="spacingAndGlyphs">1104 (188)</text>
<text class="nm" x="662.5" y="570.8" text-anchor="end" textLength="68.0" lengthAdjust="spacingAndGlyphs">1880 (326)</text>
<text class="nm" x="662.5" y="608.8" text-anchor="end" textLength="60.3" lengthAdjust="spacingAndGlyphs">946 (148)</text>
<text class="nm" x="662.5" y="627.8" text-anchor="end" textLength="60.3" lengthAdjust="spacingAndGlyphs">909 (171)</text>
<text class="nm" x="739.9" y="570.8" text-anchor="end" textLength="68.0" lengthAdjust="spacingAndGlyphs">1510 (313)</text>
<text class="nm" x="739.9" y="608.8" text-anchor="end" textLength="60.3" lengthAdjust="spacingAndGlyphs">762 (153)</text>
<text class="nm" x="739.9" y="627.8" text-anchor="end" textLength="60.3" lengthAdjust="spacingAndGlyphs">732 (151)</text>
<text class="nm" x="817.3" y="570.8" text-anchor="end" textLength="68.0" lengthAdjust="spacingAndGlyphs">1229 (253)</text>
<text class="nm" x="817.3" y="608.8" text-anchor="end" textLength="60.3" lengthAdjust="spacingAndGlyphs">631 (119)</text>
<text class="nm" x="817.3" y="627.8" text-anchor="end" textLength="60.3" lengthAdjust="spacingAndGlyphs">585 (132)</text>
<text class="nm" x="894.7" y="570.8" text-anchor="end" textLength="68.0" lengthAdjust="spacingAndGlyphs">1006 (202)</text>
<text class="nm" x="894.7" y="608.8" text-anchor="end" textLength="52.5" lengthAdjust="spacingAndGlyphs">525 (98)</text>
<text class="nm" x="894.7" y="627.8" text-anchor="end" textLength="60.3" lengthAdjust="spacingAndGlyphs">470 (102)</text>
<text class="nm" x="968.2" y="570.8" text-anchor="end" textLength="60.3" lengthAdjust="spacingAndGlyphs">826 (169)</text>
<text class="nm" x="968.2" y="608.8" text-anchor="end" textLength="52.5" lengthAdjust="spacingAndGlyphs">431 (88)</text>
<text class="nm" x="968.2" y="627.8" text-anchor="end" textLength="52.5" lengthAdjust="spacingAndGlyphs">385 (80)</text>
<text class="nm" x="1045.5" y="570.8" text-anchor="end" textLength="60.3" lengthAdjust="spacingAndGlyphs">669 (152)</text>
<text class="nm" x="1045.5" y="608.8" text-anchor="end" textLength="52.5" lengthAdjust="spacingAndGlyphs">355 (73)</text>
<text class="nm" x="1045.5" y="627.8" text-anchor="end" textLength="52.5" lengthAdjust="spacingAndGlyphs">305 (78)</text>
<text class="nm" x="1122.9" y="570.8" text-anchor="end" textLength="60.3" lengthAdjust="spacingAndGlyphs">538 (126)</text>
<text class="nm" x="1122.9" y="608.8" text-anchor="end" textLength="52.5" lengthAdjust="spacingAndGlyphs">286 (65)</text>
<text class="nm" x="1122.9" y="627.8" text-anchor="end" textLength="52.5" lengthAdjust="spacingAndGlyphs">245 (59)</text>
<line x1="14" y1="652.5" x2="1123" y2="652.5" stroke="#555" stroke-width="1.4"/>
<text class="cp" y="677.5"><tspan x="13.8" textLength="49.1" lengthAdjust="spacingAndGlyphs">Median</tspan> <tspan x="67.9" textLength="80.5" lengthAdjust="spacingAndGlyphs">observation</tspan> <tspan x="153.1" textLength="28.9" lengthAdjust="spacingAndGlyphs">time</tspan> <tspan x="186.7" textLength="10.8" lengthAdjust="spacingAndGlyphs">in</tspan> <tspan x="202.1" textLength="21.9" lengthAdjust="spacingAndGlyphs">the</tspan> <tspan x="228.3" textLength="44.8" lengthAdjust="spacingAndGlyphs">overall</tspan> <tspan x="276.4" textLength="45.2" lengthAdjust="spacingAndGlyphs">cohort</tspan> <tspan x="325.2" textLength="26.4" lengthAdjust="spacingAndGlyphs">was</tspan> <tspan x="354.9" textLength="20.8" lengthAdjust="spacingAndGlyphs">5.6</tspan> <tspan x="380.3" textLength="34.7" lengthAdjust="spacingAndGlyphs">years</tspan> <tspan x="419.2" textLength="32.5" lengthAdjust="spacingAndGlyphs">(IQR,</tspan> <tspan x="456.9" textLength="45.6" lengthAdjust="spacingAndGlyphs">2.9-9.4</tspan> <tspan x="507.8" textLength="46.8" lengthAdjust="spacingAndGlyphs">years);</tspan> <tspan x="558.5" textLength="11.2" lengthAdjust="spacingAndGlyphs">in</tspan> <tspan x="573.9" textLength="54.5" lengthAdjust="spacingAndGlyphs">patients</tspan> <tspan x="632.8" textLength="28.8" lengthAdjust="spacingAndGlyphs">with</tspan> <tspan x="666.4" textLength="61.8" lengthAdjust="spacingAndGlyphs">hormone</tspan> <tspan x="731.8" textLength="118.1" lengthAdjust="spacingAndGlyphs">receptor–positive</tspan> <tspan x="853.8" textLength="53.2" lengthAdjust="spacingAndGlyphs">disease,</tspan> <tspan x="911.4" textLength="21.3" lengthAdjust="spacingAndGlyphs">5.8</tspan> <tspan x="937.0" textLength="35.4" lengthAdjust="spacingAndGlyphs">years</tspan> <tspan x="976.3" textLength="32.2" lengthAdjust="spacingAndGlyphs">(IQR,</tspan> <tspan x="1013.4" textLength="49.2" lengthAdjust="spacingAndGlyphs">3.0-9.3</tspan> <tspan x="1066.1" textLength="46.0" lengthAdjust="spacingAndGlyphs">years);</tspan></text>
<text class="cp" y="699.2"><tspan x="13.4" textLength="23.6" lengthAdjust="spacingAndGlyphs">and</tspan> <tspan x="41.7" textLength="11.7" lengthAdjust="spacingAndGlyphs">in</tspan> <tspan x="58.2" textLength="54.3" lengthAdjust="spacingAndGlyphs">patients</tspan> <tspan x="116.9" textLength="28.8" lengthAdjust="spacingAndGlyphs">with</tspan> <tspan x="150.5" textLength="61.8" lengthAdjust="spacingAndGlyphs">hormone</tspan> <tspan x="216.3" textLength="123.7" lengthAdjust="spacingAndGlyphs">receptor–negative</tspan> <tspan x="343.7" textLength="51.8" lengthAdjust="spacingAndGlyphs">disease,</tspan> <tspan x="400.7" textLength="20.5" lengthAdjust="spacingAndGlyphs">5.6</tspan> <tspan x="425.9" textLength="35.0" lengthAdjust="spacingAndGlyphs">years</tspan> <tspan x="464.9" textLength="32.3" lengthAdjust="spacingAndGlyphs">(IQR,</tspan> <tspan x="503.2" textLength="45.6" lengthAdjust="spacingAndGlyphs">2.7-9.6</tspan> <tspan x="553.2" textLength="45.3" lengthAdjust="spacingAndGlyphs">years).</tspan></text>
</svg></body></html>
